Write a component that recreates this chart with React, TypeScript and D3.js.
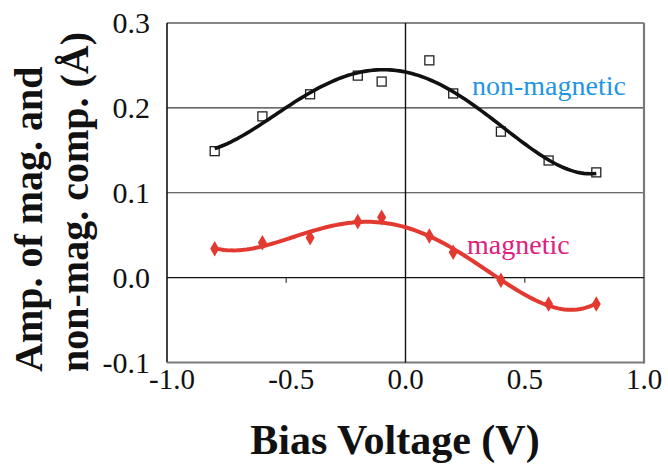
import { scaleLinear, line as d3line, symbol, symbolDiamond, range, sum } from 'd3';
import React from 'react';

// bias voltages shared by both series
const bias = [-0.8, -0.6, -0.4, -0.2, -0.1, 0.1, 0.2, 0.4, 0.6, 0.8];
// non-magnetic component (open squares)
const nonMag = [0.149, 0.19, 0.216, 0.238, 0.231, 0.256, 0.217, 0.172, 0.138, 0.124];
// magnetic component (red diamonds)
const mag = [0.034, 0.041, 0.047, 0.066, 0.071, 0.049, 0.03, -0.003, -0.031, -0.031];

const xTicks = [-1.0, -0.5, 0.0, 0.5, 1.0];
const yTicks = [-0.1, 0.0, 0.1, 0.2, 0.3];
const yTitle = ['Amp. of mag. and', 'non-mag. comp. (\u00C5)'];

const W = 668, H = 466;
const margin = { top: 23, right: 24, bottom: 103.5, left: 167 };
const FONT = 'serif';

// least squares polynomial trendline (like a spreadsheet trendline)
function polyFit(xs: number[], ys: number[], order: number) {
  const n = order + 1;
  const A: number[][] = [];
  for (let i = 0; i < n; i++) {
    A.push([]);
    for (let j = 0; j < n; j++) A[i].push(sum(xs, x => Math.pow(x, i + j)));
    A[i].push(sum(xs, (x, k) => Math.pow(x, i) * ys[k]));
  }
  for (let c = 0; c < n; c++) {
    let p = c;
    for (let r = c + 1; r < n; r++) if (Math.abs(A[r][c]) > Math.abs(A[p][c])) p = r;
    [A[c], A[p]] = [A[p], A[c]];
    for (let r = 0; r < n; r++) {
      if (r === c) continue;
      const f = A[r][c] / A[c][c];
      for (let k = c; k <= n; k++) A[r][k] -= f * A[c][k];
    }
  }
  const coef = A.map((row, i) => row[n] / row[i]);
  return (x: number) => coef.reduce((s, a, i) => s + a * Math.pow(x, i), 0);
}

export default function App() {
  const x = scaleLinear().domain([-1, 1]).range([margin.left, W - margin.right]);
  const y = scaleLinear().domain([-0.1, 0.3]).range([H - margin.bottom, margin.top]);

  const xs = range(0, 121).map(i => -0.8 + (1.6 * i) / 120);
  const fitN = polyFit(bias, nonMag, 4);
  const fitM = polyFit(bias, mag, 4);
  const lineN = d3line<number>().x(v => x(v)).y(v => y(fitN(v)));
  const lineM = d3line<number>().x(v => x(v)).y(v => y(fitM(v)));
  const diamond = symbol(symbolDiamond, 70)() as string;

  const x0 = x(-1), x1 = x(1), yT = y(0.3), yB = y(-0.1);

  return (
    <svg width={W} height={H} style={{ position: 'absolute', left: 0, top: 0 }}>
      {/* gridlines */}
      {[0.1, 0.2].map(d => (
        <line key={d} x1={x0} x2={x1} y1={y(d)} y2={y(d)} stroke="#3a3a3a" strokeWidth={1.2} />
      ))}
      {/* frame */}
      <line x1={x0} x2={x1} y1={yT} y2={yT} stroke="#111" strokeWidth={1.2} />
      <line x1={x0} x2={x0} y1={yT} y2={yB} stroke="#111" strokeWidth={1.6} />
      <line x1={x1} x2={x1} y1={yT} y2={yB + 1} stroke="#7a7a7a" strokeWidth={2.2} />
      <line x1={x0} x2={x1} y1={yB} y2={yB} stroke="#7a7a7a" strokeWidth={2.2} />
      {/* axes through zero */}
      <line x1={x0} x2={x1} y1={y(0)} y2={y(0)} stroke="#111" strokeWidth={1.4} />
      <line x1={x(0)} x2={x(0)} y1={yT} y2={yB} stroke="#111" strokeWidth={1.4} />
      {[-0.5, 0.5].map(d => (
        <line key={d} x1={x(d)} x2={x(d)} y1={y(0)} y2={y(0) + 5} stroke="#555" strokeWidth={1.4} />
      ))}

      {/* tick labels */}
      {xTicks.map(d => (
        <text key={d} x={x(d) + (d < 0 ? 5 : 0)} y={389} textAnchor="middle"
          fontFamily={FONT} fontSize={29} fill="#111">{d.toFixed(1)}</text>
      ))}
      {yTicks.map(d => (
        <text key={d} x={150} y={y(d) + 10} textAnchor="end"
          fontFamily={FONT} fontSize={30} fill="#111">{d.toFixed(1)}</text>
      ))}

      {/* axis titles */}
      <text x={395} y={454} textAnchor="middle" fontWeight="bold"
        fontFamily={FONT} fontSize={42} fill="#111">Bias Voltage (V)</text>
      {yTitle.map((t, i) => (
        <text key={t} x={0} y={0} transform={`translate(${i === 0 ? 42 : 88},372) rotate(-90)`}
          fontFamily={FONT} fontWeight="bold" fontSize={40} fill="#111">{t}</text>
      ))}

      {/* markers */}
      {bias.map((d, i) => (
        <rect key={'s' + i} x={x(d) - 4.5} y={y(nonMag[i]) - 4.5} width={9} height={9}
          fill="none" stroke="#222" strokeWidth={1.3} />
      ))}
      {bias.map((d, i) => (
        <path key={'d' + i} transform={`translate(${x(d)},${y(mag[i])})`} d={diamond} fill="#e23a30" />
      ))}

      {/* trendlines */}
      <path d={lineN(xs) as string} fill="none" stroke="#111" strokeWidth={3.6} />
      <path d={lineM(xs) as string} fill="none" stroke="#e23a30" strokeWidth={4} />

      {/* series labels */}
      <text x={472} y={95} fontFamily={FONT} fontSize={28} fill="#1f95e3">non-magnetic</text>
      <text x={467} y={254} fontFamily={FONT} fontSize={28} fill="#e0207c">magnetic</text>
    </svg>
  );
}
